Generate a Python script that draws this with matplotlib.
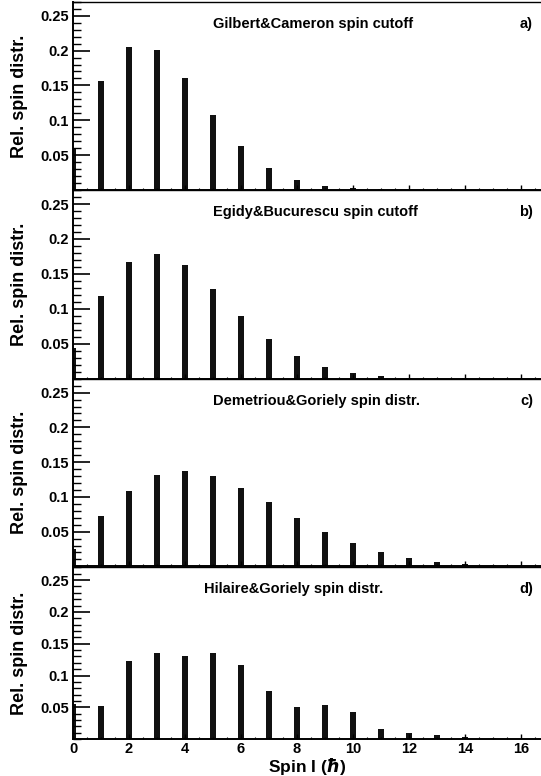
import matplotlib
matplotlib.use("Agg")
import matplotlib.pyplot as plt
from matplotlib.ticker import MultipleLocator, FixedLocator, FixedFormatter

plt.rcParams['font.family'] = ['Liberation Sans', 'DejaVu Sans']
plt.rcParams['font.weight'] = 'bold'
plt.rcParams['mathtext.fontset'] = 'dejavusans'

spins = list(range(17))

gilbert_cameron = [0.060, 0.157, 0.205, 0.201, 0.161, 0.108, 0.063, 0.032, 0.014,
                   0.006, 0.002, 0.0006, 0.0002, 0.0, 0.0, 0.0, 0.0]
egidy_bucurescu = [0.044, 0.119, 0.167, 0.179, 0.163, 0.128, 0.090, 0.057, 0.033,
                   0.017, 0.0085, 0.0037, 0.0015, 0.0006, 0.0002, 0.0001, 0.0]
demetriou_goriely = [0.025, 0.072, 0.109, 0.131, 0.137, 0.130, 0.113, 0.092, 0.070,
                     0.049, 0.033, 0.020, 0.012, 0.0068, 0.004, 0.002, 0.001]
hilaire_goriely = [0.055, 0.052, 0.123, 0.136, 0.131, 0.135, 0.117, 0.076, 0.050,
                   0.054, 0.043, 0.0155, 0.010, 0.006, 0.004, 0.0015, 0.0005]

series = [gilbert_cameron, egidy_bucurescu, demetriou_goriely, hilaire_goriely]
titles = ["Gilbert&Cameron spin cutoff", "Egidy&Bucurescu spin cutoff",
          "Demetriou&Goriely spin distr.", "Hilaire&Goriely spin distr."]
letters = ["a)", "b)", "c)", "d)"]
ytick_vals = [0.05, 0.1, 0.15, 0.2, 0.25]
ytick_labels = ["0.05", "0.1", "0.15", "0.2", "0.25"]

W, H = 541, 776
fig = plt.figure(figsize=(W / 100, H / 100), dpi=100)

# pixel extents (top, bottom) of each panel
panels_px = [(1.9, 189.8), (190.1, 378.6), (378.7, 566.4), (567.3, 739.2)]
left_px, right_px = 73, 541
title_x_px = [213, 213, 213, 204]

for i, (vals, (top, bot)) in enumerate(zip(series, panels_px)):
    ax = fig.add_axes([left_px / W, 1 - bot / H, (right_px - left_px) / W, (bot - top) / H])
    ax.bar(spins, vals, width=0.22, color='#111111', align='center')
    ax.set_xlim(0, 16.72)
    ax.set_ylim(0, 0.27)
    ax.yaxis.set_major_locator(FixedLocator(ytick_vals))
    ax.yaxis.set_major_formatter(FixedFormatter(ytick_labels))
    ax.yaxis.set_minor_locator(MultipleLocator(0.01))
    ax.xaxis.set_major_locator(MultipleLocator(2))
    ax.xaxis.set_minor_locator(MultipleLocator(0.5))
    ax.tick_params(axis='y', which='major', direction='in', length=12, width=1.2,
                   labelsize=10.5, pad=3)
    ax.tick_params(axis='y', which='minor', direction='in', length=6, width=1.0)
    ax.tick_params(axis='x', which='major', direction='in', length=3.5, width=1.0,
                   labelsize=10.5, pad=2)
    ax.tick_params(axis='x', which='minor', direction='in', length=1.5, width=0.8)
    ax.spines['right'].set_visible(False)
    for s in ['left', 'bottom']:
        ax.spines[s].set_linewidth(1.4)
    ax.spines['top'].set_linewidth(1.0)
    if i < 3:
        ax.tick_params(axis='x', labelbottom=False)
    else:
        ax.set_xlabel(r"Spin I ($\hbar$)", fontsize=12.5, fontweight='bold', labelpad=0)
    ax.set_ylabel("Rel. spin distr.", fontsize=13, fontweight='bold', labelpad=9)
    ax.annotate(titles[i], xy=((title_x_px[i] - left_px) / (right_px - left_px), 1),
                xycoords='axes fraction', xytext=(0, -22), textcoords='offset pixels',
                ha='left', va='center', fontsize=10.5, fontweight='bold')
    ax.annotate(letters[i], xy=((533 - left_px) / (right_px - left_px), 1),
                xycoords='axes fraction', xytext=(0, -22), textcoords='offset pixels',
                ha='right', va='center', fontsize=10.5, fontweight='bold')
    for lab in ax.get_yticklabels() + ax.get_xticklabels():
        lab.set_fontweight('bold')

fig.savefig("out.png", dpi=100)
